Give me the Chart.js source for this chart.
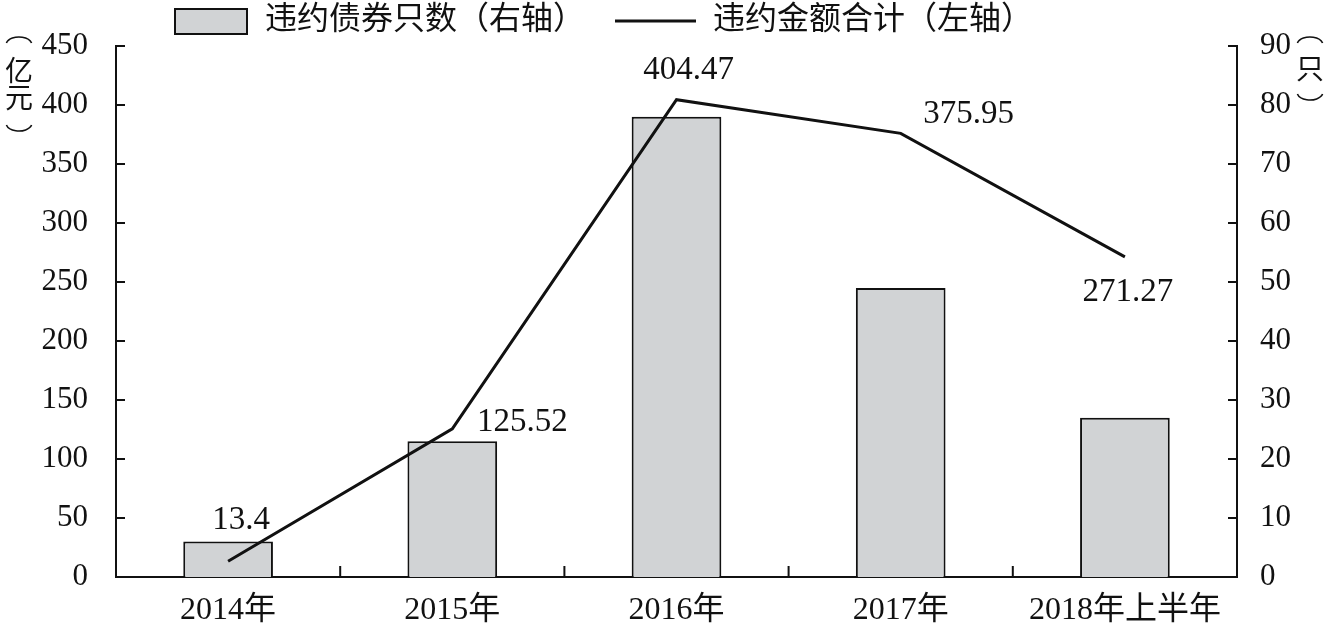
<!DOCTYPE html>
<html>
<head>
<meta charset="utf-8">
<script src="https://cdn.jsdelivr.net/npm/chart.js@4"></script>
<style>
  html, body { margin: 0; padding: 0; background: #fff; }
  #wrap { width: 1329px; height: 636px; }
</style>
</head>
<body>
<div id="wrap"><canvas id="myChart"></canvas></div>
<script>
'use strict';

// data
let categories = ['2014年', '2015年', '2016年', '2017年', '2018年上半年'];
let bondCounts = [6, 23, 78, 49, 27];               // 违约债券只数（右轴）
let defaultAmounts = [13.4, 125.52, 404.47, 375.95, 271.27]; // 违约金额合计（左轴）
let leftTicks = [0, 50, 100, 150, 200, 250, 300, 350, 400, 450];
let rightTicks = [0, 10, 20, 30, 40, 50, 60, 70, 80, 90];

let barName = '违约债券只数（右轴）';
let lineName = '违约金额合计（左轴）';

// where each amount label sits relative to its point
let labelOffsets = [[13, -41], [70, -7], [12, -29], [68, -19], [3, 35]];

let serif = '"Liberation Serif", "Noto Sans CJK SC", serif';

// vertical-text bracket: open = arc on top, close = arc below
function sideParen(ctx, cx, cy, open) {
  ctx.beginPath();
  if (open) {
    ctx.ellipse(cx, cy + 5, 13, 8, 0, Math.PI * 1.08, Math.PI * 1.92);
  } else {
    ctx.ellipse(cx, cy - 5, 13, 8, 0, Math.PI * 0.08, Math.PI * 0.92);
  }
  ctx.stroke();
}

// inward ticks, vertical axis titles, legend and value labels
let decorPlugin = {
  id: 'decor',
  afterDraw(chart) {
    let ctx = chart.ctx;
    let area = chart.chartArea;
    let yL = chart.scales.y;
    let yR = chart.scales.y1;
    let x = chart.scales.x;
    ctx.save();
    ctx.strokeStyle = '#111';
    ctx.lineWidth = 2;
    ctx.beginPath();
    leftTicks.forEach(v => {
      let py = yL.getPixelForValue(v);
      ctx.moveTo(area.left, py);
      ctx.lineTo(area.left + 9, py);
    });
    rightTicks.forEach(v => {
      let py = yR.getPixelForValue(v);
      ctx.moveTo(area.right, py);
      ctx.lineTo(area.right - 9, py);
    });
    for (let i = 1; i < categories.length; i++) {
      let px = (x.getPixelForValue(i - 1) + x.getPixelForValue(i)) / 2;
      ctx.moveTo(px, area.bottom);
      ctx.lineTo(px, area.bottom - 11);
    }
    ctx.stroke();

    // vertical unit titles
    ctx.fillStyle = '#111';
    ctx.textAlign = 'center';
    ctx.textBaseline = 'middle';
    ctx.font = '28px ' + serif;
    ctx.lineWidth = 1.6;
    sideParen(ctx, 19, 40, true);
    ctx.fillText('亿', 19, 74);
    ctx.fillText('元', 19, 101);
    sideParen(ctx, 19, 128, false);
    sideParen(ctx, 1310, 40, true);
    ctx.fillText('只', 1310, 72);
    sideParen(ctx, 1310, 97, false);

    // legend
    ctx.lineWidth = 2;
    ctx.fillStyle = '#d1d3d5';
    ctx.fillRect(175, 9, 72, 25);
    ctx.strokeRect(175, 9, 72, 25);
    ctx.beginPath();
    ctx.lineWidth = 3;
    ctx.moveTo(615, 21);
    ctx.lineTo(696, 21);
    ctx.stroke();
    ctx.fillStyle = '#111';
    ctx.textAlign = 'left';
    ctx.font = '32px ' + serif;
    ctx.fillText(barName, 265, 21);
    ctx.fillText(lineName, 713, 21);

    // amount labels
    ctx.textAlign = 'center';
    ctx.font = '33px ' + serif;
    let meta = chart.getDatasetMeta(1);
    meta.data.forEach((pt, i) => {
      let off = labelOffsets[i];
      ctx.fillText(String(defaultAmounts[i]), pt.x + off[0], pt.y + off[1]);
    });
    ctx.restore();
  }
};

let ctx = document.getElementById('myChart').getContext('2d');
let myChart = new Chart(ctx, {
  type: 'bar',
  data: {
    labels: categories,
    datasets: [{
      type: 'bar',
      label: barName,
      data: bondCounts,
      yAxisID: 'y1',
      backgroundColor: '#d1d3d5',
      borderColor: '#111',
      borderWidth: 2,
      categoryPercentage: 1,
      barPercentage: 0.4,
      order: 2
    }, {
      type: 'line',
      label: lineName,
      data: defaultAmounts,
      yAxisID: 'y',
      borderColor: '#111',
      borderWidth: 3,
      pointRadius: 0,
      tension: 0,
      fill: false,
      order: 1
    }]
  },
  options: {
    responsive: true,
    maintainAspectRatio: false,
    animation: false,
    layout: { padding: { top: 46, left: 0, right: 0, bottom: 0 } },
    plugins: {
      legend: { display: false },
      tooltip: { enabled: false }
    },
    scales: {
      x: {
        grid: { display: false },
        border: { color: '#111', width: 2 },
        ticks: {
          color: '#111',
          font: { family: serif, size: 32 },
          padding: 6,
          maxRotation: 0
        },
        afterFit(scale) { scale.height = 59; }
      },
      y: {
        position: 'left',
        min: 0,
        max: 450,
        grid: { display: false },
        border: { color: '#111', width: 2 },
        ticks: {
          stepSize: 50,
          color: '#111',
          font: { family: serif, size: 31 },
          padding: 20
        },
        afterFit(scale) { scale.width = 116; }
      },
      y1: {
        position: 'right',
        min: 0,
        max: 90,
        grid: { display: false },
        border: { color: '#111', width: 2 },
        ticks: {
          stepSize: 10,
          color: '#111',
          font: { family: serif, size: 31 },
          padding: 15
        },
        afterFit(scale) { scale.width = 92; }
      }
    }
  },
  plugins: [decorPlugin]
});
</script>
</body>
</html>
